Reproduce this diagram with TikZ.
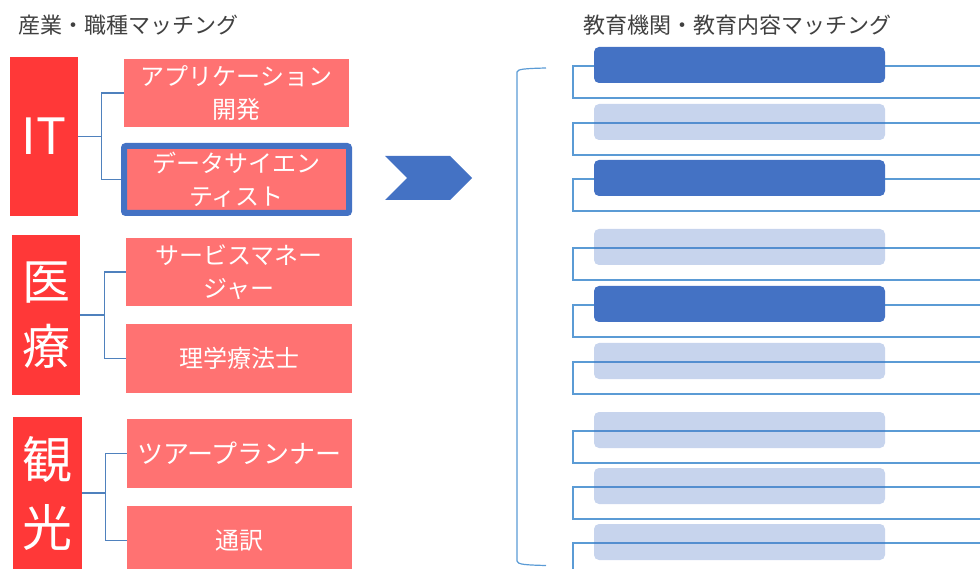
\documentclass[tikz,border=0pt]{standalone}
\usepackage{fontspec}
\setmainfont{Noto Sans CJK JP}
\usetikzlibrary{calc}
\definecolor{redA}{HTML}{FF3838}
\definecolor{redB}{HTML}{FF7272}
\definecolor{blueA}{HTML}{4472C4}
\definecolor{lineB}{HTML}{5B9BD5}
\definecolor{connC}{HTML}{4F81BD}
\definecolor{titleC}{HTML}{404040}
\begin{document}
\begin{tikzpicture}[x=1pt,y=-1pt,
  titlenode/.style={anchor=west, inner sep=0pt, text=titleC, font=\fontsize{22}{26}\selectfont},
  catbox/.style={fill=redA, inner sep=0pt, text=white, align=center},
  jobbox/.style={fill=redB, inner sep=0pt, text=white, align=center, minimum width=225pt, font=\fontsize{24}{33}\selectfont},
  conn/.style={draw=connC, line width=1.3pt},
  rowline/.style={draw=lineB, line width=1.2pt},
  bard/.style={fill=blueA, rounded corners=5pt, minimum width=291pt, minimum height=36pt, inner sep=0pt},
  barl/.style={bard, fill opacity=0.3},
  bracket/.style={draw=lineB, line width=1.2pt}]
\useasboundingbox (0,0) rectangle (980,569);
\clip (0,0) rectangle (980,569);

% titles
\node[titlenode] (t1) at (18,25) {産業・職種マッチング};
\node[titlenode] (t2) at (583,25) {教育機関・教育内容マッチング};

% left: categories
\node[catbox, minimum width=68pt, minimum height=159pt, font=\fontsize{50}{60}\selectfont] (it) at (44,136.5) {IT};
\node[catbox, minimum width=68pt, minimum height=160pt, font=\fontsize{48}{65}\selectfont] (med) at (46,315) {医\\療};
\node[catbox, minimum width=69pt, minimum height=152pt, font=\fontsize{50}{68}\selectfont] (tou) at (47.5,493) {観\\光};

% left: jobs
\node[jobbox, minimum height=68pt] (app) at (236.5,93) {アプリケーション\\開発};
\node[jobbox, draw=blueA, line width=6pt, rounded corners=2pt, minimum height=67pt] (ds) at (236.5,179.5) {データサイエン\\ティスト};
\node[jobbox, minimum width=226pt, minimum height=68pt] (svc) at (239,272) {サービスマネー\\ジャー};
\node[jobbox, minimum width=226pt, minimum height=69pt] (pt) at (239,358.5) {理学療法士};
\node[jobbox, minimum height=69pt, font=\fontsize{26}{33}\selectfont] (tp) at (239.5,453.5) {ツアープランナー};
\node[jobbox, minimum height=69pt] (tr) at (239.5,540.5) {通訳};

% left: connectors
\coordinate (j1) at ($(it.east)+(23,0)$);
\coordinate (j2) at ($(med.east)+(24,0)$);
\coordinate (j3) at ($(tou.east)+(23,0)$);
\draw[conn] (it.east) -- (j1);
\draw[conn] (j1) |- (app.west);
\draw[conn] (j1) |- (ds.west);
\draw[conn] (med.east) -- (j2);
\draw[conn] (j2) |- (svc.west);
\draw[conn] (j2) |- (pt.west);
\draw[conn] (tou.east) -- (j3);
\draw[conn] (j3) |- (tp.west);
\draw[conn] (j3) |- (tr.west);

% chevron
\fill[blueA] (385,156) -- (450,156) -- (472,178) -- (450,200) -- (385,200) -- (407,178) -- cycle;

% bracket
\draw[bracket] (546,68) .. controls (526,68.5) and (517,69) .. (517,72) -- (517,561) .. controls (517,564.5) and (526,565) .. (546,565.5);

% right: rows
\foreach \y/\s [count=\i] in {47/bard,104/barl,160/bard,229/barl,286/bard,343/barl,412/barl,468/barl,524/barl} {
  \draw[rowline] (980,\y+19) -- (573,\y+19) -- (573,\y+51) -- (980,\y+51);
  \node[\s] (b\i) at (739.5,\y+18) {};
}
\end{tikzpicture}
\end{document}
